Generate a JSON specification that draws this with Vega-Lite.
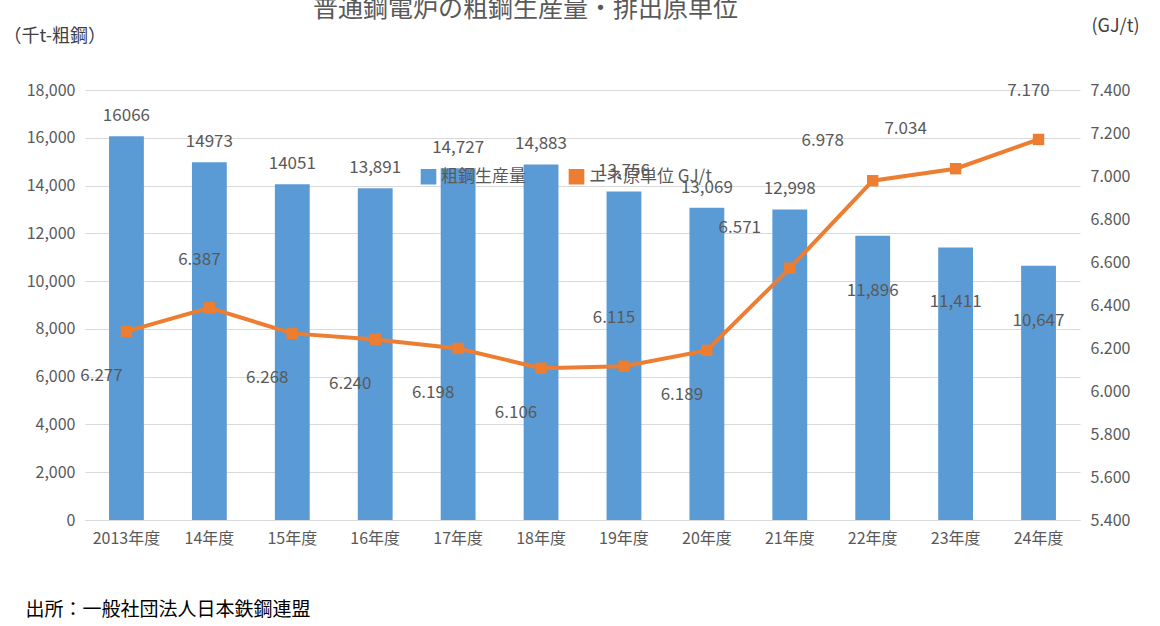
{
  "$schema": "https://vega.github.io/schema/vega-lite/v6.json",
  "width": 995,
  "height": 430,
  "autosize": "none",
  "padding": {"left": 85, "top": 90, "right": 80, "bottom": 106},
  "background": "white",
  "config": {"view": {"stroke": null}, "font": "Noto Sans CJK JP"},
  "title": {"text": "普通鋼電炉の粗鋼生産量・排出原単位", "fontSize": 25, "fontWeight": "normal", "color": "#595959", "offset": -5, "dx": -57},
  "data": {"values": [
    {"year": "2013年度", "prod": 16066, "prodLabel": "16066", "ene": 6.277, "grp": "below", "barIn": false},
    {"year": "14年度", "prod": 14973, "prodLabel": "14973", "ene": 6.387, "grp": "above", "barIn": false},
    {"year": "15年度", "prod": 14051, "prodLabel": "14051", "ene": 6.268, "grp": "below", "barIn": false},
    {"year": "16年度", "prod": 13891, "prodLabel": "13,891", "ene": 6.240, "grp": "below", "barIn": false},
    {"year": "17年度", "prod": 14727, "prodLabel": "14,727", "ene": 6.198, "grp": "below", "barIn": false},
    {"year": "18年度", "prod": 14883, "prodLabel": "14,883", "ene": 6.106, "grp": "below", "barIn": false},
    {"year": "19年度", "prod": 13756, "prodLabel": "13,756", "ene": 6.115, "grp": "above", "barIn": false},
    {"year": "20年度", "prod": 13069, "prodLabel": "13,069", "ene": 6.189, "grp": "below", "barIn": false},
    {"year": "21年度", "prod": 12998, "prodLabel": "12,998", "ene": 6.571, "grp": "left", "barIn": false},
    {"year": "22年度", "prod": 11896, "prodLabel": "11,896", "ene": 6.978, "grp": "left", "barIn": true},
    {"year": "23年度", "prod": 11411, "prodLabel": "11,411", "ene": 7.034, "grp": "left", "barIn": true},
    {"year": "24年度", "prod": 10647, "prodLabel": "10,647", "ene": 7.170, "grp": "above", "barIn": true}
  ]},
  "encoding": {
    "x": {"field": "year", "type": "ordinal", "sort": null,
      "scale": {"paddingInner": 0.58, "paddingOuter": 0.29},
      "axis": {"labelAngle": 0, "labelFontSize": 16, "labelColor": "#595959", "domainColor": "#d9d9d9", "ticks": false, "labelPadding": 10,
        "title": "出所：一般社団法人日本鉄鋼連盟", "titleFontSize": 19, "titleFontWeight": "normal", "titleColor": "#000000",
        "titleAlign": "left", "titleX": -60, "titleY": 80}}
  },
  "layer": [
    {
      "layer": [
        {"mark": {"type": "bar"},
          "encoding": {"color": {"datum": "粗鋼生産量", "type": "nominal",
            "scale": {"domain": ["粗鋼生産量", "エネ原単位 GJ/t"], "range": ["#5b9bd5", "#ed7d31"]},
            "legend": {"orient": "none", "legendX": 335, "legendY": 78, "direction": "horizontal", "title": null,
              "symbolType": "square", "symbolSize": 200, "labelFontSize": 17, "labelColor": "#595959", "columnPadding": 40}}}},
        {"transform": [{"filter": "!datum.barIn"}],
          "mark": {"type": "text", "dy": -20, "fontSize": 17, "color": "#595959"},
          "encoding": {"text": {"field": "prodLabel"}}},
        {"transform": [{"filter": "datum.barIn"}],
          "mark": {"type": "text", "dy": 55, "fontSize": 17, "color": "#595959"},
          "encoding": {"text": {"field": "prodLabel"}}}
      ],
      "encoding": {
        "y": {"field": "prod", "type": "quantitative",
          "scale": {"domain": [0, 18000]},
          "axis": {"values": [0,2000,4000,6000,8000,10000,12000,14000,16000,18000], "format": ",.0f", "labelFontSize": 16, "labelColor": "#595959",
            "domain": false, "ticks": false, "gridColor": "#d9d9d9", "labelPadding": 10,
            "title": "（千t-粗鋼）", "titleAngle": 0, "titleAlign": "left", "titleX": -82, "titleY": -45, "titleFontSize": 18, "titleFontWeight": "normal", "titleColor": "#404040"}}
      }
    },
    {
      "layer": [
        {"mark": {"type": "line", "strokeWidth": 4},
          "encoding": {"color": {"datum": "エネ原単位 GJ/t", "type": "nominal"}}},
        {"mark": {"type": "point", "shape": "square", "filled": true, "size": 130, "color": "#ed7d31", "opacity": 1}},
        {"transform": [{"filter": "datum.grp == 'below'"}],
          "mark": {"type": "text", "dx": -25, "dy": 45, "fontSize": 17, "color": "#595959"},
          "encoding": {"text": {"field": "ene", "format": ".3f"}}},
        {"transform": [{"filter": "datum.grp == 'above'"}],
          "mark": {"type": "text", "dx": -10, "dy": -48, "fontSize": 17, "color": "#595959"},
          "encoding": {"text": {"field": "ene", "format": ".3f"}}},
        {"transform": [{"filter": "datum.grp == 'left'"}],
          "mark": {"type": "text", "dx": -50, "dy": -40, "fontSize": 17, "color": "#595959"},
          "encoding": {"text": {"field": "ene", "format": ".3f"}}}
      ],
      "encoding": {
        "y": {"field": "ene", "type": "quantitative",
          "scale": {"domain": [5.4, 7.4], "zero": false},
          "axis": {"orient": "right", "values": [5.4,5.6,5.8,6.0,6.2,6.4,6.6,6.8,7.0,7.2,7.4], "format": ".3f", "labelFontSize": 16, "labelColor": "#595959",
            "domain": false, "ticks": false, "grid": false, "labelPadding": 10,
            "title": "(GJ/t)", "titleAngle": 0, "titleAlign": "center", "titleX": 35, "titleY": -55, "titleFontSize": 18, "titleFontWeight": "normal", "titleColor": "#404040"}}
      }
    }
  ],
  "resolve": {"scale": {"y": "independent"}}
}
